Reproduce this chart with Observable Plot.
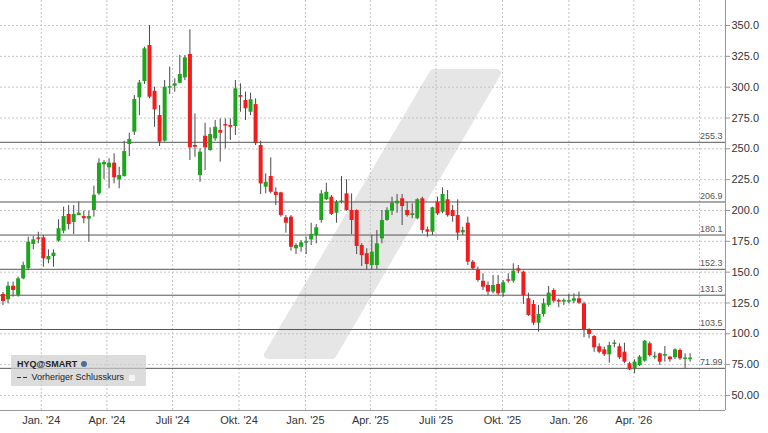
<!DOCTYPE html>
<html><head><meta charset="utf-8">
<script src="https://cdn.jsdelivr.net/npm/d3@7"></script>
<script src="https://cdn.jsdelivr.net/npm/@observablehq/plot@0.6"></script>
<style>
body{margin:0;background:#fff;font-family:"Liberation Sans",Arial,sans-serif;}
#wrap{position:relative;width:768px;height:433px;overflow:hidden;}
.legend{position:absolute;left:11px;top:355px;width:135px;height:31px;background:rgba(205,205,205,0.7);font-size:9px;color:#222;}
.legend .l1{position:absolute;left:6px;top:4px;font-weight:bold;}
.legend .l2{position:absolute;left:6px;top:17px;}
.dash{display:inline-block;width:4px;height:1.5px;background:#333;margin-right:2px;vertical-align:middle;}
.globe{display:inline-block;width:6px;height:6px;border-radius:50%;background:#4a6f9a;margin-left:4px;}
.box{display:inline-block;width:6px;height:6px;background:#f4f4f4;margin-left:5px;vertical-align:middle;}
</style></head><body><div id="wrap"></div>
<script>
const startDate = "2023-11-09";
const openP  = [131.9,127.6,138.6,131.1,144.6,152.7,172.4,177.8,177.8,160.0,162.7,175.1,183.2,196.8,190.3,195.9,195.1,193.0,200.0,213.5,237.0,234.6,238.4,224.9,227.6,253.5,263.5,291.4,304.6,333.8,296.7,277.0,256.2,299.2,300.8,303.2,307.6,326.5,252.7,228.4,260.2,248.6,258.1,264.9,269.7,268.9,268.1,293.2,289.2,279.7,285.9,252.7,218.9,227.6,214.8,214.3,194.1,194.6,168.9,170.2,173.5,176.2,179.7,191.9,208.7,210.8,197.8,206.5,213.5,200.0,200.0,171.6,164.9,155.4,155.4,177.0,191.9,199.4,205.4,209.5,200.0,195.9,193.3,209.5,184.3,182.4,206.7,198.6,208.7,200.0,195.9,181.9,189.7,158.1,151.9,142.6,139.2,133.8,140.0,133.0,143.8,142.7,152.7,150.0,128.4,123.8,108.6,115.7,123.0,135.1,127.0,125.7,125.7,126.4,128.4,124.3,102.7,97.8,89.5,87.0,83.0,91.3,89.5,85.1,75.7,71.6,74.3,77.8,91.9,80.6,83.8,81.9,81.1,80.6,86.5,79.2,79.0];
const highP  = [133.5,141.9,141.9,146.0,158.1,178.3,178.9,182.4,179.7,168.1,168.1,192.5,202.7,204.0,204.0,206.7,199.4,199.4,219.7,241.9,240.5,241.9,246.0,235.1,256.2,262.7,293.2,305.4,332.4,350.0,300.0,285.1,305.4,316.2,306.8,325.7,325.7,346.5,278.4,250.0,270.8,267.0,273.0,274.3,274.3,274.3,305.4,302.7,296.0,295.1,290.6,256.2,229.7,242.7,218.4,214.8,195.9,195.9,173.0,175.7,178.3,189.7,188.6,216.2,222.1,212.2,208.1,227.6,224.9,213.5,200.5,173.0,169.0,179.7,183.8,200.0,202.2,210.8,213.0,213.0,206.7,205.4,209.5,210.8,186.5,202.7,210.8,218.4,216.2,204.0,208.7,186.5,194.6,159.5,154.0,148.7,141.9,147.3,147.3,143.2,148.7,156.8,155.4,150.8,132.9,127.0,123.0,128.4,138.4,136.5,128.4,128.4,131.9,132.4,133.8,125.7,104.1,98.6,91.9,89.2,93.2,94.6,91.9,92.4,77.0,78.9,82.4,94.6,93.2,85.1,84.3,89.7,81.6,87.8,87.8,83.8,83.8];
const lowP   = [123.0,124.3,129.7,129.7,143.8,151.3,168.1,173.0,154.0,156.8,154.0,174.3,181.1,184.3,180.5,195.9,189.2,174.3,194.6,212.2,224.9,217.6,221.6,217.6,227.0,243.8,260.8,277.0,302.2,290.6,267.5,251.9,255.4,294.1,296.0,302.7,305.4,240.5,243.2,222.9,232.4,248.1,256.2,239.2,250.0,256.8,260.8,279.7,273.0,277.0,252.7,213.0,213.5,213.5,204.0,194.6,181.6,167.0,164.3,166.2,164.3,171.6,173.0,189.7,208.1,195.9,189.7,205.4,199.4,180.5,164.3,154.6,151.9,152.2,152.2,173.0,191.4,195.9,197.8,187.8,194.6,193.3,192.5,181.1,178.3,179.7,195.9,197.3,194.6,190.5,175.7,179.7,155.4,151.3,141.9,135.1,131.1,132.4,131.1,129.7,141.1,141.1,148.7,123.8,114.1,106.8,101.3,113.5,121.6,124.8,121.1,123.0,124.3,124.3,123.8,96.8,96.0,85.0,83.8,81.6,76.2,88.6,79.0,75.7,70.3,67.6,73.5,77.0,81.1,79.0,74.3,77.0,77.0,79.0,78.4,71.6,77.0];
const closeP = [126.2,138.6,135.1,144.6,155.4,174.3,176.2,176.7,160.8,162.7,165.4,185.2,195.1,188.6,196.8,197.8,193.3,195.1,212.4,238.4,238.9,238.4,226.5,228.4,247.8,257.6,290.0,303.5,331.1,291.9,281.6,255.4,300.0,300.0,302.7,310.3,323.8,250.8,251.3,247.3,250.8,261.6,267.5,262.7,268.7,267.5,298.7,291.9,282.5,289.8,254.6,221.6,222.9,214.8,212.2,195.9,189.7,170.2,171.6,173.8,174.3,180.5,186.0,213.5,214.8,196.8,206.7,207.0,200.0,191.9,170.8,163.5,156.2,166.2,173.0,191.9,200.0,205.9,207.5,203.2,195.9,197.3,208.7,183.8,182.4,202.2,197.3,213.0,195.9,195.1,181.6,183.8,158.1,152.7,143.2,137.8,133.8,139.2,132.4,141.4,142.7,150.8,150.8,131.1,114.9,108.6,115.7,124.3,133.0,126.4,125.7,127.0,126.4,128.4,124.8,102.7,99.5,88.6,85.1,83.0,90.5,92.3,80.6,77.0,70.8,77.0,81.1,94.0,82.4,81.6,77.0,82.4,79.0,87.0,79.7,79.7,80.3];

const levels = [255.3, 206.9, 180.1, 152.3, 131.3, 103.5, 71.99];
const levelLabels = ["255.3","206.9","180.1","152.3","131.3","103.5","71.99"];
const quarterTicks = ["2024-01-01","2024-04-01","2024-07-01","2024-10-01","2025-01-01","2025-04-01","2025-07-01","2025-10-01","2026-01-01","2026-04-01"];
const quarterLabels = ["Jan. '24","Apr. '24","Juli '24","Okt. '24","Jan. '25","Apr. '25","Juli '25","Okt. '25","Jan. '26","Apr. '26"];
const gridDates = ["2024-01-01","2024-04-01","2024-07-01","2024-10-01","2025-01-01","2025-04-01","2025-07-01","2025-10-01","2026-01-01","2026-04-01","2026-07-01"];
const yTicks = [50,75,100,125,150,175,200,225,250,275,300,325,350];
const slashY = [82.5, 311.0];
const slashLeft = ["2024-11-11","2025-06-28"];
const slashRight = ["2025-02-08","2025-09-24"];

const GREEN = "#1ea51e", RED = "#f21c1c";
const data = openP.map((o, i) => ({
  date: d3.utcDay.offset(new Date(startDate), 7 * i),
  open: o, high: highP[i], low: lowP[i], close: closeP[i]
}));
const xDomain = [new Date("2023-11-05T14:00Z"), new Date("2026-08-06")];
const yDomain = [37.8, 370.3];
const labelMap = new Map(quarterTicks.map((d, i) => [+new Date(d), quarterLabels[i]]));
const slash = slashY.map((y, i) => ({y, x1: new Date(slashLeft[i]), x2: new Date(slashRight[i])}));
const lv = levels.map((v, i) => ({v, label: levelLabels[i]}));

const chart = Plot.plot({
  width: 768, height: 433,
  marginLeft: 0, marginRight: 43, marginTop: 0, marginBottom: 23,
  x: {type: "utc", domain: xDomain},
  y: {domain: yDomain},
  style: {fontFamily: "'Liberation Sans', Arial, sans-serif", fontSize: "11px", color: "#333", background: "#fff"},
  marks: [
    Plot.areaX(slash, {y: "y", x1: "x1", x2: "x2", fill: "#e6e6e6", stroke: "#e6e6e6", strokeWidth: 8, strokeLinejoin: "round"}),
    Plot.ruleY(yTicks, {stroke: "#c4c4c4", strokeDasharray: "2,2"}),
    Plot.ruleX(gridDates.map(d => new Date(d)), {stroke: "#c4c4c4", strokeDasharray: "2,2"}),
    Plot.ruleY(lv, {y: "v", stroke: "#555", strokeWidth: 1}),
    Plot.text(lv, {x: xDomain[1], y: "v", text: "label", textAnchor: "end", dx: -3, dy: -6, fontSize: 9, fill: "#555"}),
    Plot.ruleX(data, {x: "date", y1: "low", y2: "high", stroke: "#4a4a4a", strokeWidth: 1}),
    Plot.ruleX(data, {
      x: "date", y1: "open",
      y2: d => Math.abs(d.close - d.open) < 1.2 ? d.open + (d.close >= d.open ? 1.2 : -1.2) : d.close,
      stroke: d => d.close >= d.open ? GREEN : RED, strokeWidth: 4
    }),
    Plot.ruleX([xDomain[1]], {stroke: "#999"}),
    Plot.ruleY([yDomain[0]], {stroke: "#999"}),
    Plot.axisY({anchor: "right", ticks: yTicks, tickFormat: v => v >= 100 ? v.toFixed(1) : v.toFixed(2), tickSize: 4, tickPadding: 2, stroke: "#999", fill: "#333", fontSize: 11, label: null}),
    Plot.axisX({ticks: quarterTicks.map(d => new Date(d)), tickFormat: d => labelMap.get(+d) || "", tickSize: 0, tickPadding: 6, fill: "#333", fontSize: 11, label: null})
  ]
});
const wrap = document.getElementById("wrap");
wrap.appendChild(chart);
const lg = document.createElement("div");
lg.className = "legend";
lg.innerHTML = '<div class="l1">HYQ@SMART<span class="globe"></span></div><div class="l2"><span class="dash"></span><span class="dash"></span> Vorheriger Schlusskurs<span class="box"></span></div>';
wrap.appendChild(lg);
</script></body></html>
